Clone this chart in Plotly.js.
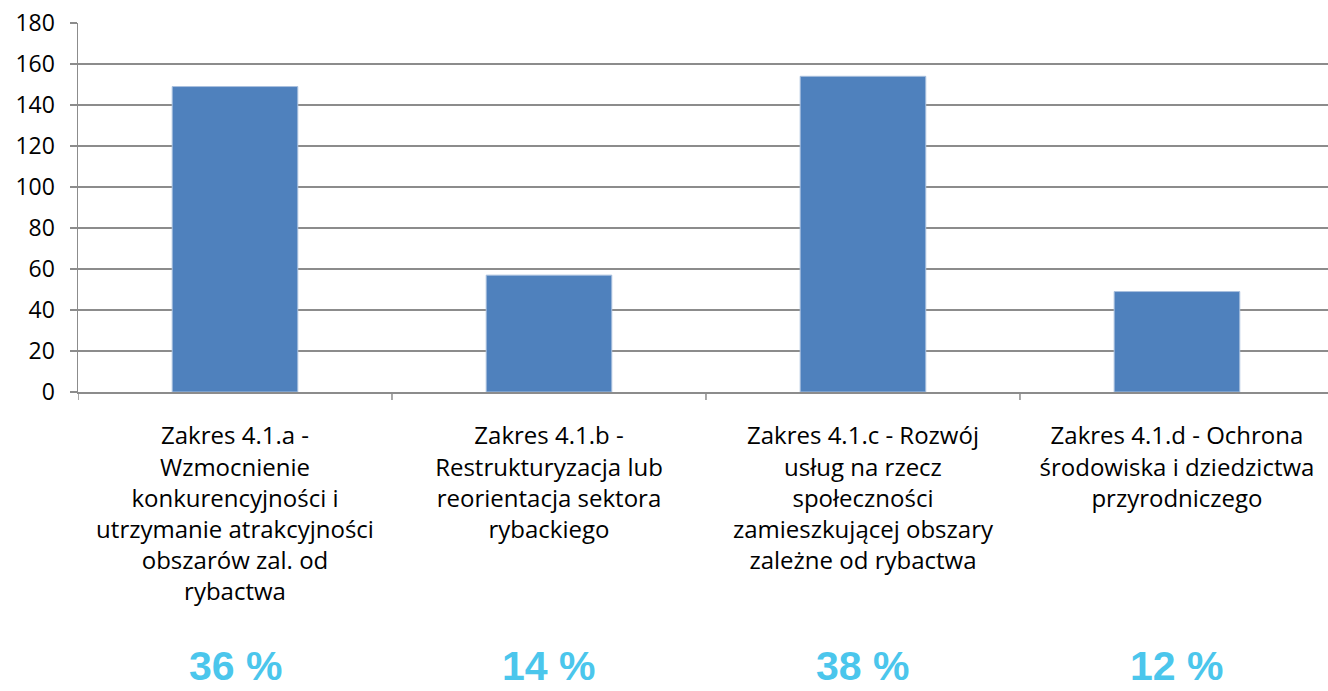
<!DOCTYPE html>
<html><head><meta charset="utf-8">
<script src="https://cdn.plot.ly/plotly-3.0.1.min.js"></script>
<style>body{margin:0;background:#fff}#c{width:1328px;height:691px}</style>
</head><body><div id="c"></div>
<script>
const categories = ["Zakres 4.1.a", "Zakres 4.1.b", "Zakres 4.1.c", "Zakres 4.1.d"];
const tickLabels = [
  "Zakres 4.1.a -<br>Wzmocnienie<br>konkurencyjności i<br>utrzymanie atrakcyjności<br>obszarów zal. od<br>rybactwa",
  "Zakres 4.1.b -<br>Restrukturyzacja lub<br>reorientacja sektora<br>rybackiego",
  "Zakres 4.1.c - Rozwój<br>usług na rzecz<br>społeczności<br>zamieszkującej obszary<br>zależne od rybactwa",
  "Zakres 4.1.d - Ochrona<br>środowiska i dziedzictwa<br>przyrodniczego"
];
const values = [149, 57, 154, 49];
const percentLabels = ["36 %", "14 %", "38 %", "12 %"];

const grid = "#8c8c8c";
const data = [{
  type: "bar", x: [0, 1, 2, 3], y: values,
  marker: {color: "#4F81BD", line: {color: "#A9C0DE", width: 1}},
  hoverinfo: "y"
}];
const annotations = percentLabels.map((t, i) => ({
  x: i, xref: "x", y: -0.81, yref: "paper", yanchor: "bottom",
  text: t, showarrow: false,
  font: {family: "Liberation Sans, Arial, sans-serif", size: 41, color: "#4BC6EC", weight: "bold"}
}));
const layout = {
  width: 1328, height: 691,
  margin: {l: 78, r: 0, t: 23, b: 299},
  paper_bgcolor: "#fff", plot_bgcolor: "#fff",
  bargap: 0.6,
  showlegend: false,
  font: {family: "'Open Sans', sans-serif", color: "#000"},
  xaxis: {
    range: [-0.5, 3.481],
    tickmode: "array", tickvals: [0, 1, 2, 3], ticktext: tickLabels,
    showline: true, linecolor: grid, linewidth: 1.5,
    showgrid: false, zeroline: false,
    ticks: "", tickfont: {size: 24, color: "#000"},
    ticklabelstandoff: 22
  },
  yaxis: {
    range: [0, 180], dtick: 20, tick0: 0,
    ticks: "outside", ticklen: 7, tickwidth: 1.5, tickcolor: grid,
    showline: true, linecolor: grid, linewidth: 1.5,
    showgrid: true, gridcolor: grid, gridwidth: 1.5, zeroline: false,
    tickfont: {size: 23, color: "#000"},
    ticklabelstandoff: 10
  },
  shapes: [-0.5, 0.5, 1.5, 2.5].map(b => ({
    type: "line", xref: "x", yref: "paper", x0: b, x1: b, y0: 0, y1: -0.022,
    line: {color: grid, width: 1.5}
  })),
  annotations: annotations
};
Plotly.newPlot("c", data, layout, {displayModeBar: false, staticPlot: true});
</script></body></html>
